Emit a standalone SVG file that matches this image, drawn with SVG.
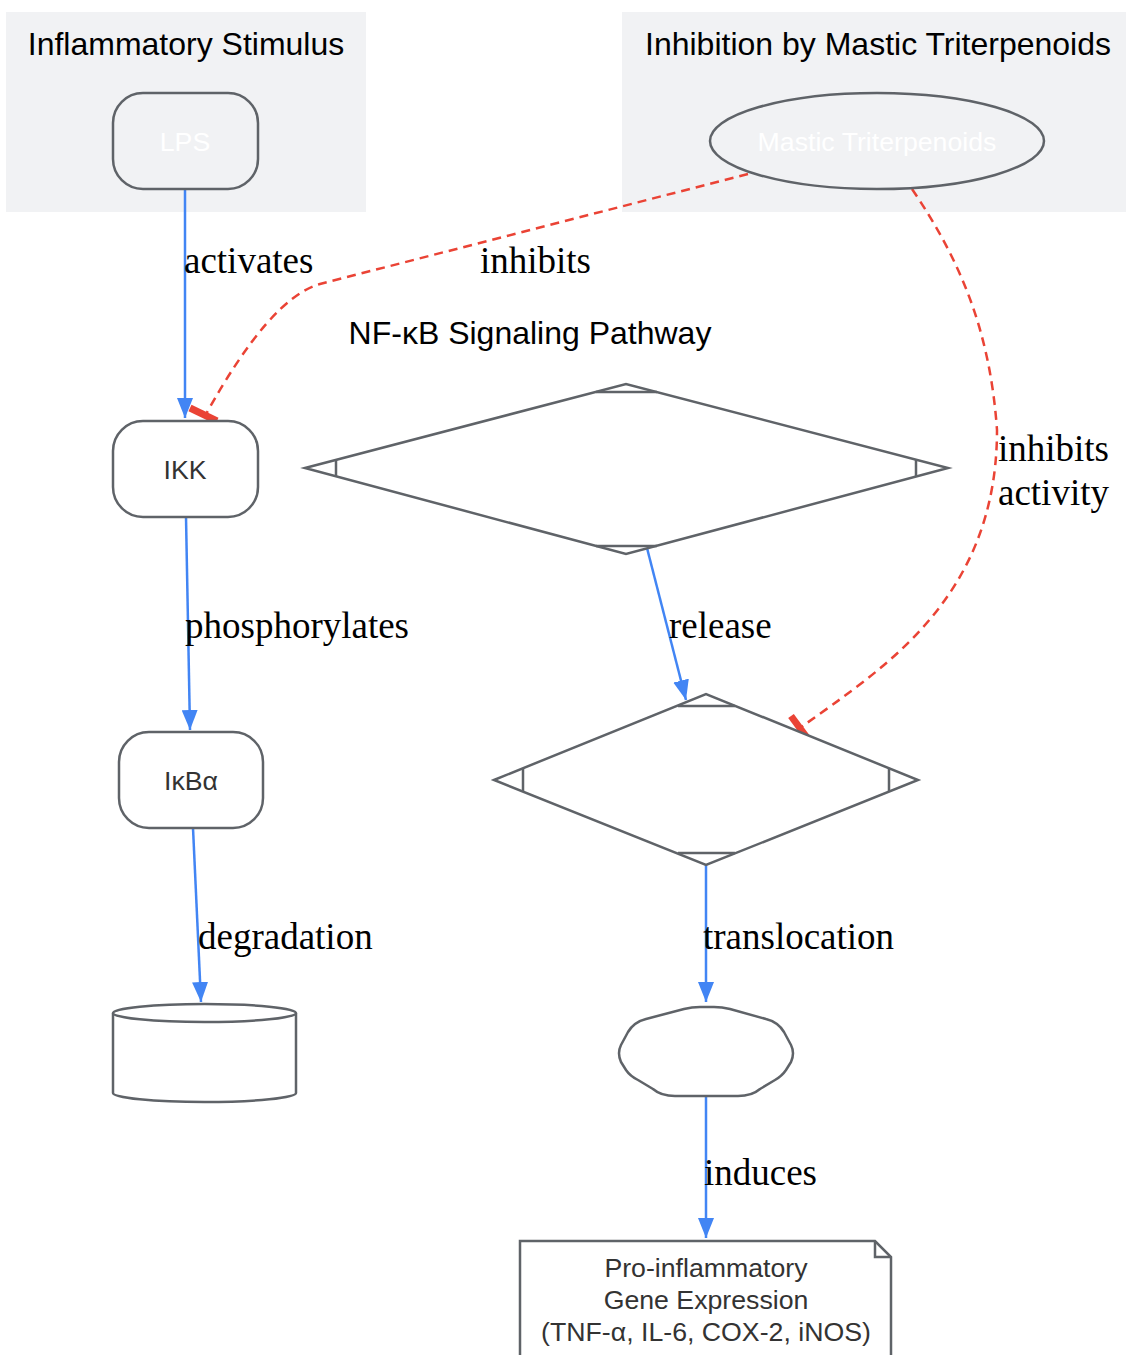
<svg xmlns="http://www.w3.org/2000/svg" width="1126" height="1355" viewBox="0 0 1126 1355">
<defs>
<style>
.cl{fill:#f1f2f4;stroke:none}
.ct{font-family:"Liberation Sans",Arial,sans-serif;font-size:32px;fill:#000;text-anchor:middle}
.nd{fill:#fff;stroke:#5f6368;stroke-width:2.5}
.ndc{fill:#f1f2f4;stroke:#5f6368;stroke-width:2.5}
.nt{font-family:"Liberation Sans",Arial,sans-serif;font-size:26.7px;fill:#333;text-anchor:middle}
.wt{font-family:"Liberation Sans",Arial,sans-serif;font-size:26.7px;fill:#fff;text-anchor:middle}
.mk{fill:none;stroke:#5f6368;stroke-width:2.5}
.e{fill:none;stroke:#4285f4;stroke-width:2.5}
.ei{fill:none;stroke:#ea4335;stroke-width:2.5;stroke-dasharray:9,6}
.bar{stroke:#ea4335;stroke-width:7}
.el{font-family:"Liberation Serif","Times New Roman",serif;font-size:37px;fill:#000}
</style>
<marker id="arr" viewBox="0 0 20 16" refX="20" refY="8" markerWidth="20" markerHeight="16" markerUnits="userSpaceOnUse" orient="auto">
<path d="M0,0 L20,8 L0,16 z" fill="#4285f4"/>
</marker>
</defs>

<g id="cluster-stimulus">
<rect class="cl" x="6" y="12" width="360" height="200"/>
<text class="ct" x="186" y="55">Inflammatory Stimulus</text>
</g>
<g id="cluster-inhibition">
<rect class="cl" x="622" y="12" width="504" height="200"/>
<text class="ct" x="878" y="55">Inhibition by Mastic Triterpenoids</text>
</g>
<g id="cluster-nfkb">
<text class="ct" x="530" y="344">NF-κB Signaling Pathway</text>
</g>

<g id="edges">
<path class="e" d="M185,189 L185,418" marker-end="url(#arr)"/>
<path class="e" d="M186,517 L190,730" marker-end="url(#arr)"/>
<path class="e" d="M193,828 L201,1002" marker-end="url(#arr)"/>
<path class="e" d="M647,548 L686,700" marker-end="url(#arr)"/>
<path class="e" d="M706,865 L706,1002" marker-end="url(#arr)"/>
<path class="e" d="M706,1096 L706,1238" marker-end="url(#arr)"/>
<path class="ei" d="M748,174 L320,284 Q270,298 205,416"/>
<line class="bar" x1="190" y1="408" x2="217" y2="421"/>
<path class="ei" d="M912,189 C960,260 990,330 997,430 C997,600 880,670 800,728"/>
<line class="bar" x1="791" y1="716" x2="808" y2="739"/>
<text class="el" x="184" y="273">activates</text>
<text class="el" x="480" y="273">inhibits</text>
<text class="el" x="185" y="638">phosphorylates</text>
<text class="el" x="669" y="638">release</text>
<text class="el" x="198" y="949">degradation</text>
<text class="el" x="703" y="949">translocation</text>
<text class="el" x="704" y="1185">induces</text>
<text class="el" x="998" y="461">inhibits</text>
<text class="el" x="998" y="505">activity</text>
</g>

<g id="node-lps">
<rect class="ndc" x="113" y="93" width="145" height="96" rx="30"/>
<text class="wt" x="185" y="151">LPS</text>
</g>
<g id="node-mastic">
<ellipse class="ndc" cx="877" cy="141" rx="167" ry="48"/>
<text class="wt" x="877" y="151">Mastic Triterpenoids</text>
</g>
<g id="node-ikk">
<rect class="nd" x="113" y="421" width="145" height="96" rx="30"/>
<text class="nt" x="185" y="479">IKK</text>
</g>
<g id="node-ikba">
<rect class="nd" x="119" y="732" width="144" height="96" rx="30"/>
<text class="nt" x="191" y="790">IκBα</text>
</g>
<g id="node-complex">
<polygon class="nd" points="305,468 626,384 948,468 626,554"/>
<path class="mk" d="M596,392 L657,392 M596,546 L657,546 M336,459 L336,477 M916,459 L916,477"/>
</g>
<g id="node-nfkb">
<polygon class="nd" points="494,780 706,694 918,780 706,865"/>
<path class="mk" d="M678,706 L735,706 M678,853 L735,853 M523,768 L523,792 M889,768 L889,792"/>
</g>
<g id="node-degraded">
<path class="nd" d="M113,1013 L113,1093 A91.5,9 0 0 0 296,1093 L296,1013"/>
<ellipse class="nd" cx="204.5" cy="1013" rx="91.5" ry="9"/>
</g>
<g id="node-nucleus">
<path class="nd" stroke-linejoin="round" d="M700,1007 L714,1007 Q722,1007 730,1009 L766,1019 Q778,1022 784,1032 L791,1045 Q795,1053 791,1062 L786,1070 Q782,1076 775,1080 L760,1089 Q752,1096 738,1096 L675,1096 Q661,1096 653,1089 L638,1080 Q630,1076 626,1070 L621,1062 Q617,1053 621,1045 L628,1032 Q634,1022 646,1019 L684,1009 Q692,1007 700,1007 Z"/>
</g>
<g id="node-genes">
<path class="nd" d="M520,1241 L875,1241 L891,1257 L891,1360 L520,1360 Z"/>
<path class="mk" d="M875,1241 L875,1257 L891,1257"/>
<text class="nt" x="706" y="1277">Pro-inflammatory</text>
<text class="nt" x="706" y="1309">Gene Expression</text>
<text class="nt" x="706" y="1341">(TNF-α, IL-6, COX-2, iNOS)</text>
</g>
</svg>
